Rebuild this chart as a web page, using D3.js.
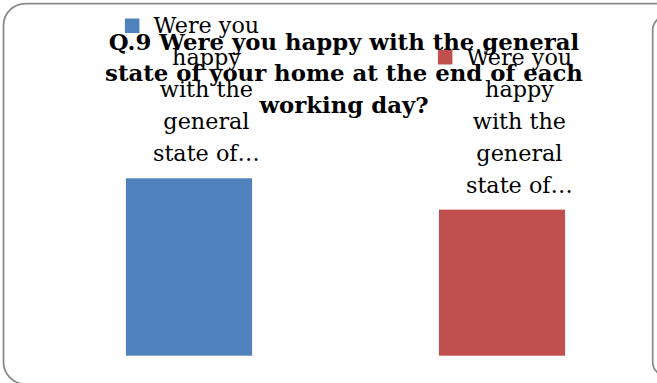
<!DOCTYPE html>
<html>
<head>
<meta charset="utf-8">
<script src="https://cdn.jsdelivr.net/npm/d3@7/dist/d3.min.js"></script>
<style>
  html, body { margin: 0; padding: 0; background: #fff; }
  svg { display: block; }
</style>
</head>
<body>
<div id="chart"></div>
<script>
// Chart content
const titleLines = ["Q.9 Were you happy with the general", "state of your home at the end of each", "working day?"];
const categories = ["Yes", "No"];
const values = [17, 14];
const legendLines = ["Were you", "happy", "with the", "general", "state of…"];
const colors = ["#4F81BD", "#C0504D"];

const W = 657, H = 383;
const svg = d3.select("#chart").append("svg")
  .attr("width", W).attr("height", H);

// chart frame (continues past the right edge)
svg.append("rect")
  .attr("x", 3.5).attr("y", 3.5)
  .attr("width", 760).attr("height", 380.5)
  .attr("rx", 22).attr("ry", 22)
  .attr("fill", "#fff")
  .attr("stroke", "#898989").attr("stroke-width", 1.75);

// neighbouring frame peeking in at the right
svg.append("rect")
  .attr("x", 652.7).attr("y", 16)
  .attr("width", 80).attr("height", 360)
  .attr("rx", 14).attr("ry", 14)
  .attr("fill", "#fff")
  .attr("stroke", "#898989").attr("stroke-width", 1.75);

// scales
const x = d3.scaleBand()
  .domain(categories)
  .range([32.5, 658.5])
  .paddingInner(0.597)
  .paddingOuter(0.2985);

const y = d3.scaleLinear()
  .domain([0, 20])
  .range([355.7, 147]);

// bars
svg.append("g").selectAll("rect")
  .data(categories)
  .join("rect")
  .attr("x", d => x(d))
  .attr("width", x.bandwidth())
  .attr("y", (d, i) => y(values[i]))
  .attr("height", (d, i) => y(0) - y(values[i]))
  .attr("fill", (d, i) => colors[i]);

// title
const title = svg.append("text")
  .attr("text-anchor", "middle")
  .attr("font-family", "'DejaVu Serif', serif")
  .attr("font-weight", "bold")
  .attr("font-size", 22.8)
  .attr("fill", "#000");
title.selectAll("tspan")
  .data(titleLines)
  .join("tspan")
  .attr("x", 344)
  .attr("y", (d, i) => 50 + i * 31.3)
  .text(d => d);

// legend entries, one per series, placed above each bar
const lineH = 32;
const legend = svg.append("g").selectAll("g")
  .data(categories)
  .join("g")
  .attr("transform", (d, i) => `translate(${x(d)},${i * 31.5})`);

legend.append("rect")
  .attr("x", -1).attr("y", 18.5)
  .attr("width", 14.5).attr("height", 14.5)
  .attr("fill", (d, i) => colors[i]);

legend.append("text")
  .attr("text-anchor", "middle")
  .attr("font-family", "'DejaVu Serif', serif")
  .attr("font-size", 22.3)
  .attr("fill", "#000")
  .selectAll("tspan")
  .data(legendLines)
  .join("tspan")
  .attr("x", 80.5)
  .attr("y", (d, i) => 33 + i * lineH)
  .text(d => d);
</script>
</body>
</html>
